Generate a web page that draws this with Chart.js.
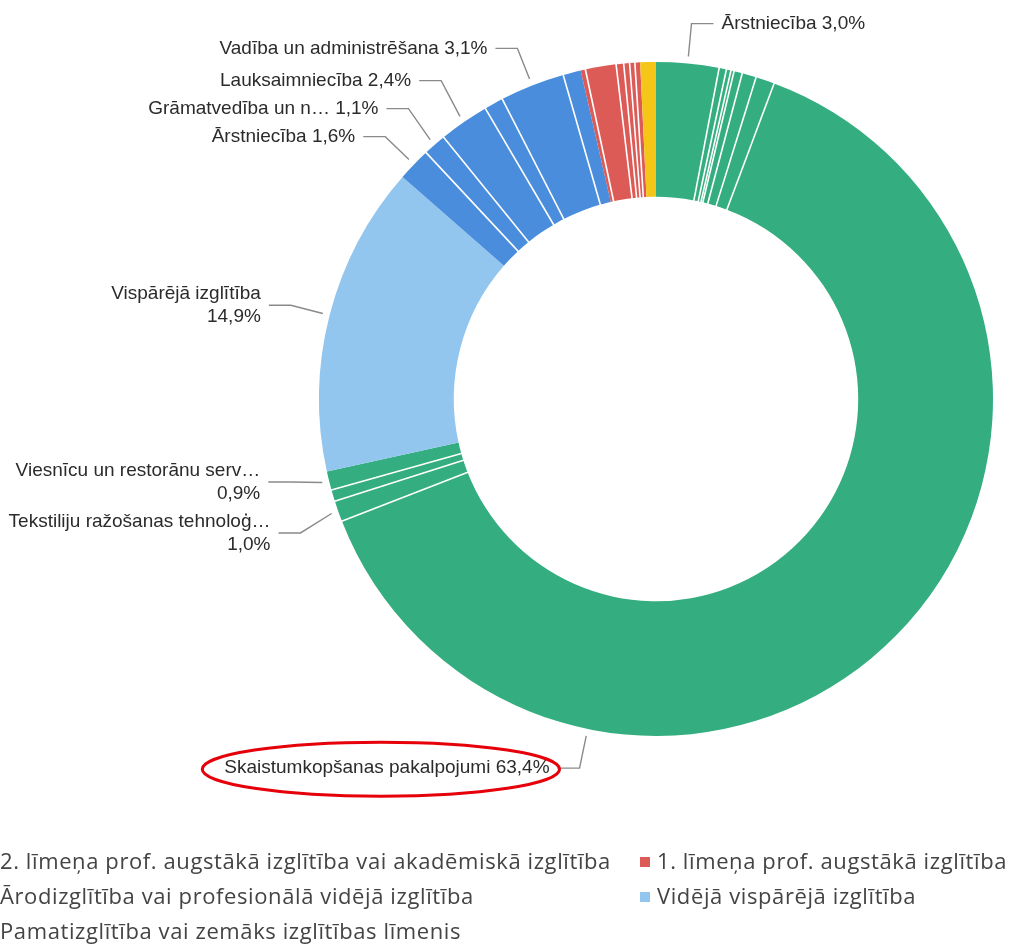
<!DOCTYPE html>
<html>
<head>
<meta charset="utf-8">
<script src="https://cdn.jsdelivr.net/npm/chart.js@4.4.1/dist/chart.umd.min.js"></script>
<style>
  html, body { margin: 0; padding: 0; background: #fff; overflow: hidden; }
  #wrap { position: relative; width: 1010px; height: 945px; overflow: hidden; }
  #chart { position: absolute; left: 0; top: 0; }
  .legend-item {
    position: absolute;
    font-family: "Open Sans", sans-serif;
    font-size: 22px;
    letter-spacing: 0.6px;
    color: #444;
    white-space: nowrap;
    line-height: 24px;
  }
  .legend-item .box { display: inline-block; width: 10px; height: 10px; margin-right: 7px; vertical-align: 2px; }
</style>
</head>
<body>
<div id="wrap">
  <canvas id="chart" width="1010" height="945" style="width:1010px;height:945px"></canvas>
  <div id="legend"></div>
</div>
<script>
// legend groups (education level)
const groupNames = [
    '2. līmeņa prof. augstākā izglītība vai akadēmiskā izglītība',
    '1. līmeņa prof. augstākā izglītība',
    'Ārodizglītība vai profesionālā vidējā izglītība',
    'Vidējā vispārējā izglītība',
    'Pamatizglītība vai zemāks izglītības līmenis'
];
const groupColors = ['#34ae80', '#dd5b56', '#4a8ddc', '#92c6ef', '#f5c518'];

// slices, clockwise from 12 o'clock (empty label = not labelled in the picture)
const sliceLabels = [
    'Ārstniecība', '', '', '', '', '', '',
    'Skaistumkopšanas pakalpojumi', 'Tekstiliju ražošanas tehnoloģ…', '', 'Viesnīcu un restorānu serv…',
    'Vispārējā izglītība',
    'Ārstniecība', 'Grāmatvedība un n…', 'Lauksaimniecība', '', 'Vadība un administrēšana', '',
    '', '', '', '', '', '',
    ''
];
const sliceValues = [
    3.0, 0.35, 0.22, 0.15, 0.4, 0.68, 0.9,
    63.4, 1.0, 0.55, 0.9,
    14.9,
    1.6, 1.1, 2.4, 0.91, 3.1, 0.85,
    0.23, 1.47, 0.36, 0.28, 0.25, 0.25,
    0.75
];
const sliceGroups = [
    0, 0, 0, 0, 0, 0, 0,
    0, 0, 0, 0,
    3,
    2, 2, 2, 2, 2, 2,
    1, 1, 1, 1, 1, 1,
    4
];

// white lines only between neighbouring slices of the same colour
const sliceSeparators = {
    id: 'sliceSeparators',
    afterDatasetsDraw(chart) {
        const meta = chart.getDatasetMeta(0);
        const ctx = chart.ctx;
        const n = meta.data.length;
        ctx.save();
        ctx.strokeStyle = '#ffffff';
        ctx.lineWidth = 1.6;
        meta.data.forEach((arc, i) => {
            const prev = (i - 1 + n) % n;
            if (sliceGroups[i] !== sliceGroups[prev]) return;
            const p = arc.getProps(['x', 'y', 'startAngle', 'innerRadius', 'outerRadius'], true);
            const c = Math.cos(p.startAngle), s = Math.sin(p.startAngle);
            ctx.beginPath();
            ctx.moveTo(p.x + c * (p.innerRadius - 1), p.y + s * (p.innerRadius - 1));
            ctx.lineTo(p.x + c * (p.outerRadius + 1), p.y + s * (p.outerRadius + 1));
            ctx.stroke();
        });
        ctx.restore();
    }
};

// google-style labels outside the ring with leader lines
const outsideLabels = {
    id: 'outsideLabels',
    afterDraw(chart, args, opts) {
        const meta = chart.getDatasetMeta(0);
        const ctx = chart.ctx;
        const total = sliceValues.reduce((a, b) => a + b, 0);
        const lh = opts.lineHeight;
        const items = [];

        meta.data.forEach((arc, i) => {
            if (!sliceLabels[i]) return;
            const p = arc.getProps(['x', 'y', 'startAngle', 'endAngle', 'outerRadius'], true);
            const f = opts.anchorAt[i] != null ? opts.anchorAt[i] : 0.5;
            const a = p.startAngle + (p.endAngle - p.startAngle) * f;
            const cos = Math.cos(a), sin = Math.sin(a);
            const pct = (sliceValues[i] / total * 100).toFixed(1).replace('.', ',') + '%';
            const wrap = Math.abs(sin) < Math.sin(35 * Math.PI / 180);
            items.push({
                i, cos, sin,
                cx: p.x, cy: p.y, r: p.outerRadius,
                left: cos < 0,
                y: p.y + sin * (p.outerRadius + opts.elbow),
                lines: wrap ? [sliceLabels[i], pct] : [sliceLabels[i] + ' ' + pct]
            });
        });

        // keep labels on one side from overlapping
        const need = (a, b) => (a.lines.length + b.lines.length) * lh / 2 + opts.pad;
        [true, false].forEach(side => {
            const above = items.filter(it => it.left === side && it.y < it.cy).sort((a, b) => b.y - a.y);
            for (let k = 1; k < above.length; k++) {
                const g = need(above[k - 1], above[k]);
                if (above[k - 1].y - above[k].y < g) above[k].y = above[k - 1].y - g;
            }
            const below = items.filter(it => it.left === side && it.y >= it.cy).sort((a, b) => a.y - b.y);
            for (let it = 0; it < 40; it++) {
                for (let k = 1; k < below.length; k++) {
                    const g = need(below[k - 1], below[k]);
                    const d = below[k].y - below[k - 1].y;
                    if (d < g) {
                        below[k - 1].y -= (g - d) / 2;
                        below[k].y += (g - d) / 2;
                    }
                }
            }
        });

        ctx.save();
        ctx.font = opts.font;
        items.forEach(it => {
            const dir = it.left ? -1 : 1;
            const x1 = it.cx + it.cos * (it.r + opts.start);
            const y1 = it.cy + it.sin * (it.r + opts.start);
            const ex = it.cx + it.cos * (it.r + opts.elbow);
            const hx = ex + dir * opts.hline;

            ctx.strokeStyle = opts.lineColor;
            ctx.lineWidth = 1.4;
            ctx.beginPath();
            ctx.moveTo(x1, y1);
            ctx.lineTo(ex, it.y);
            ctx.lineTo(hx, it.y);
            ctx.stroke();

            const tx = hx + dir * opts.gap;
            ctx.fillStyle = opts.color;
            ctx.textAlign = it.left ? 'right' : 'left';
            ctx.textBaseline = 'middle';
            const y0 = it.y - (it.lines.length - 1) * lh / 2;
            it.lines.forEach((s, k) => ctx.fillText(s, tx, y0 + k * lh));

            if (it.i === opts.highlight) {
                const w = ctx.measureText(it.lines[0]).width;
                const mx = it.left ? tx - w / 2 : tx + w / 2;
                ctx.strokeStyle = '#e5000a';
                ctx.lineWidth = 3;
                ctx.beginPath();
                ctx.ellipse(mx - 6, it.y + 1, w / 2 + 16, 27, 0, 0, Math.PI * 2);
                ctx.stroke();
            }
        });
        ctx.restore();
    }
};

const anchorAt = [];
anchorAt[7] = 0.75; // label of the large slice sits near the bottom of the ring

new Chart(document.getElementById('chart').getContext('2d'), {
    type: 'doughnut',
    data: {
        labels: sliceLabels,
        datasets: [{
            data: sliceValues,
            backgroundColor: sliceGroups.map(g => groupColors[g]),
            borderWidth: 0
        }]
    },
    options: {
        responsive: false,
        animation: false,
        cutout: '60%',
        rotation: 0,
        layout: { padding: { top: 62, bottom: 209, left: 319, right: 17 } },
        plugins: {
            legend: { display: false },
            tooltip: { enabled: false },
            outsideLabels: {
                font: '19px "Liberation Sans", Arial, sans-serif',
                color: '#2b2b2b',
                lineColor: '#8a8a8a',
                lineHeight: 23,
                pad: 5,
                start: 7,
                elbow: 40,
                hline: 22,
                gap: 8,
                anchorAt: anchorAt,
                highlight: 7
            }
        }
    },
    plugins: [sliceSeparators, outsideLabels]
});

// legend below the chart, two columns, first column markers run off the left edge
const legend = document.getElementById('legend');
groupNames.forEach((name, i) => {
    const item = document.createElement('div');
    item.className = 'legend-item';
    item.style.left = (i % 2 === 0 ? -17 : 640) + 'px';
    item.style.top = (848 + Math.floor(i / 2) * 35) + 'px';
    item.innerHTML = '<span class="box" style="background:' + groupColors[i] + '"></span>' + name;
    legend.appendChild(item);
});
</script>
</body>
</html>
